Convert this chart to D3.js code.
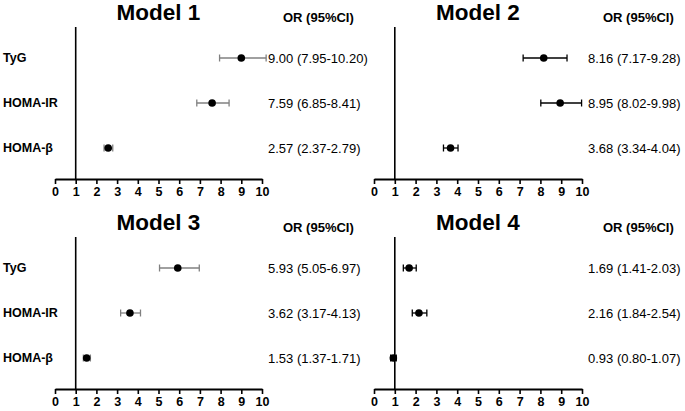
<!DOCTYPE html>
<meta charset="utf-8">
<html>
<head>
<style>
  body { margin: 0; background: #fff; }
  text { font-family: Arial, "Liberation Sans", sans-serif; }
</style>
</head>
<body>
<div id="chart"></div>
<script src="https://d3js.org/d3.v7.min.js"></script>
<script>
var models = ["Model 1", "Model 2", "Model 3", "Model 4"];
var markers = ["TyG", "HOMA-IR", "HOMA-β"];
var orVal = [[9.00, 7.59, 2.57], [8.16, 8.95, 3.68], [5.93, 3.62, 1.53], [1.69, 2.16, 0.93]];
var ciLow = [[7.95, 6.85, 2.37], [7.17, 8.02, 3.34], [5.05, 3.17, 1.37], [1.41, 1.84, 0.80]];
var ciHigh = [[10.20, 8.41, 2.79], [9.28, 9.98, 4.04], [6.97, 4.13, 1.71], [2.03, 2.54, 1.07]];
var xTicks = [0, 1, 2, 3, 4, 5, 6, 7, 8, 9, 10];

var W = 685, H = 411;
var svg = d3.select("#chart").append("svg").attr("width", W).attr("height", H);

// panel placement: left edge of axis, axis baseline, top of ref line
var panels = [
  { x0: 55, x1: 262, top: 27, axisY: 179, color: "#808080", showLabels: true },
  { x0: 374, x1: 582, top: 27, axisY: 179, color: "#000", showLabels: false },
  { x0: 55, x1: 262, top: 237, axisY: 389, color: "#808080", showLabels: true },
  { x0: 374, x1: 582, top: 237, axisY: 389, color: "#000", showLabels: false }
];

function fmt(v) { return v.toFixed(2); }

panels.forEach(function (p, m) {
  var g = svg.append("g");
  var x = d3.scaleLinear().domain([0, 10]).range([p.x0, p.x1]);
  var y = d3.scalePoint().domain(markers).range([p.top + 31, p.axisY - 31]);

  // title
  g.append("text")
    .attr("x", (p.x0 + p.x1) / 2)
    .attr("y", p.top - 7)
    .attr("text-anchor", "middle")
    .style("font-size", "22.5px")
    .style("font-weight", "bold")
    .text(models[m]);

  g.append("text")
    .attr("x", p.x1 + 21)
    .attr("y", p.top - 5)
    .style("font-size", "13px")
    .style("font-weight", "bold")
    .text("OR (95%CI)");

  // x axis
  var ax = g.append("g")
    .attr("transform", "translate(0," + p.axisY + ")")
    .call(d3.axisBottom(x).tickValues(xTicks).tickSize(5).tickSizeOuter(0).tickPadding(3));
  ax.select(".domain").attr("stroke-width", 2);
  ax.selectAll(".tick line").attr("stroke-width", 1.6);
  ax.selectAll(".tick text")
    .style("font-size", "12.5px")
    .style("font-weight", "bold")
    .style("font-family", "Arial, 'Liberation Sans', sans-serif");

  // reference line at OR = 1
  g.append("line")
    .attr("x1", x(1)).attr("x2", x(1))
    .attr("y1", p.top).attr("y2", p.axisY)
    .attr("stroke", "#000").attr("stroke-width", 1.6);

  markers.forEach(function (name, i) {
    var cy = y(name);
    if (p.showLabels) {
      g.append("text")
        .attr("x", 3).attr("y", cy).attr("dy", "0.35em")
        .style("font-size", "12.5px").style("font-weight", "bold")
        .text(name);
    }
    g.append("line")
      .attr("x1", x(ciLow[m][i])).attr("x2", x(ciHigh[m][i]))
      .attr("y1", cy).attr("y2", cy)
      .attr("stroke", p.color).attr("stroke-width", 1.3);
    [ciLow[m][i], ciHigh[m][i]].forEach(function (v) {
      g.append("line")
        .attr("x1", x(v)).attr("x2", x(v))
        .attr("y1", cy - 3.5).attr("y2", cy + 3.5)
        .attr("stroke", p.color).attr("stroke-width", 1.3);
    });
    g.append("circle")
      .attr("cx", x(orVal[m][i])).attr("cy", cy).attr("r", 3.8)
      .attr("fill", "#000");
    g.append("text")
      .attr("x", p.x1 + 6).attr("y", cy).attr("dy", "0.35em")
      .style("font-size", "13px")
      .text(fmt(orVal[m][i]) + " (" + fmt(ciLow[m][i]) + "-" + fmt(ciHigh[m][i]) + ")");
  });
});
</script>
</body>
</html>
